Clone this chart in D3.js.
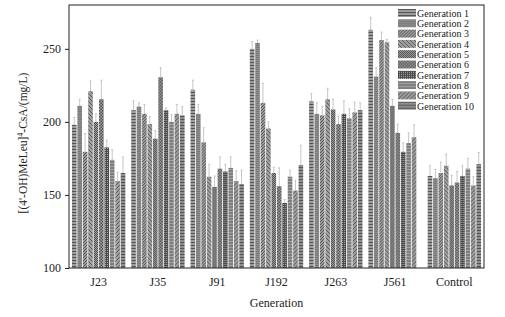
<!DOCTYPE html>
<html>
<head>
<meta charset="utf-8">
<script src="https://cdn.jsdelivr.net/npm/d3@7"></script>
<style>
  body { margin: 0; background: #fff; }
  text { font-family: "Liberation Serif", "Times New Roman", serif; fill: #222; }
</style>
</head>
<body>
<svg></svg>
<script>
// strains along the x axis, one cluster of bars each
const strains = ["J23", "J35", "J91", "J192", "J263", "J561", "Control"];
const generations = ["Generation 1", "Generation 2", "Generation 3", "Generation 4", "Generation 5",
  "Generation 6", "Generation 7", "Generation 8", "Generation 9", "Generation 10"];

// mean titre per generation, mg/L
const J23 = [198, 211, 179.5, 221, 200, 215.5, 182.5, 174, 159.5, 165];
const J35 = [208, 210.5, 205.5, 198.5, 188.5, 230.5, 208, 200, 205.5, 204.5];
const J91 = [222, 205.5, 186, 162.5, 155.5, 168, 166, 168.5, 159.5, 157.5];
const J192 = [250, 254, 213, 195.5, 165, 156, 144.5, 162.5, 153, 170.5];
const J263 = [214, 205.5, 204.5, 215.5, 208.5, 198.5, 205.5, 202.5, 206.5, 208];
const J561 = [263, 231, 256, 254.5, 211, 192.5, 179.5, 185.5, 189.5, null];
const Control = [163, 161.5, 165, 170, 156.5, 158.5, 163, 168, 156.5, 171];

// upper error (sd) per bar
const J23err = [5, 4.5, 12.5, 7, 5.5, 13, 5, 7, 6, 11];
const J35err = [6.5, 2.5, 6.5, 5, 5.5, 6.5, 1.5, 5, 6.5, 6];
const J91err = [6.5, 6.5, 10, 8.5, 7.5, 8, 5, 7.5, 7, 9.5];
const J192err = [5, 2, 13.5, 4.5, 4, 12.5, 2.5, 4.5, 7, 13.5];
const J263err = [5.5, 7.5, 6, 7.5, 7, 5.5, 9, 6.5, 7, 5];
const J561err = [8.5, 6, 5.5, 2, 4.5, 6, 6, 7, 8.5, null];
const Controlerr = [7, 6, 7.5, 8, 7, 7.5, 7, 7, 6, 8];

const yTicks = [100, 150, 200, 250];

const means = [J23, J35, J91, J192, J263, J561, Control];
const errs = [J23err, J35err, J91err, J192err, J263err, J561err, Controlerr];

const width = 505, height = 317;
const margin = { top: 5, right: 21, bottom: 49, left: 69 };
const innerW = width - margin.left - margin.right;
const innerH = height - margin.top - margin.bottom;

const svg = d3.select("svg").attr("width", width).attr("height", height);

// hatch patterns, one per generation
const defs = svg.append("defs");
const patternSpecs = [
  { size: 3, base: "#9c9c9c", draw: (p) => p.append("path").attr("d", "M0,0.5H3").attr("stroke", "#555") },
  { size: 2, base: "#8e8e8e", draw: (p) => p.append("path").attr("d", "M0,0.5H2").attr("stroke", "#7a7a7a") },
  { size: 3, base: "#a0a0a0", draw: (p) => p.append("path").attr("d", "M0,3L3,0M-1,1L1,-1M2,4L4,2").attr("stroke", "#505050") },
  { size: 4, base: "#a0a0a0", draw: (p) => p.append("path").attr("d", "M0,0L4,4M-1,3L1,5M3,-1L5,1").attr("stroke", "#585858") },
  { size: 2, base: "#a4a4a4", draw: (p) => p.append("rect").attr("width", 1).attr("height", 1).attr("fill", "#484848").clone().attr("x", 1).attr("y", 1) },
  { size: 3, base: "#a0a0a0", draw: (p) => p.append("rect").attr("width", 1.5).attr("height", 1.5).attr("fill", "#505050").clone().attr("x", 1.5).attr("y", 1.5) },
  { size: 2, base: "#aaa", draw: (p) => p.append("path").attr("d", "M0,0.5H2M0.5,0V2").attr("stroke", "#4a4a4a") },
  { size: 3, base: "#a2a2a2", draw: (p) => p.append("path").attr("d", "M0,1H3").attr("stroke", "#5a5a5a") },
  { size: 4, base: "#9c9c9c", draw: (p) => p.append("path").attr("d", "M0,4L4,0M-1,1L1,-1M3,5L5,3").attr("stroke", "#5a5a5a") },
  { size: 3, base: "#8e8e8e", draw: (p) => p.append("path").attr("d", "M0,0.5H3").attr("stroke", "#555") },
];
patternSpecs.forEach((s, i) => {
  const p = defs.append("pattern")
    .attr("id", "pat" + i)
    .attr("patternUnits", "userSpaceOnUse")
    .attr("width", s.size)
    .attr("height", s.size);
  p.append("rect").attr("width", s.size).attr("height", s.size).attr("fill", s.base);
  s.draw(p);
});

const g = svg.append("g").attr("transform", `translate(${margin.left},${margin.top})`);

const x0 = d3.scaleBand().domain(strains).range([0, innerW]).paddingInner(0.1).paddingOuter(0.05);
const x1 = d3.scaleBand().domain(generations).range([0, x0.bandwidth()]).paddingInner(0.15);
const y = d3.scaleLinear().domain([100, 280]).range([innerH, 0]);

// bars
const groups = g.selectAll("g.strain")
  .data(strains)
  .join("g")
  .attr("class", "strain")
  .attr("transform", (d) => `translate(${x0(d)},0)`);

groups.each(function (strain, si) {
  const rows = generations
    .map((gen, gi) => ({ gen, gi, v: means[si][gi], e: errs[si][gi] }))
    .filter((d) => d.v != null);

  const grp = d3.select(this);

  // error bars (upper half only)
  grp.selectAll("line.err")
    .data(rows)
    .join("line")
    .attr("x1", (d) => x1(d.gen) + x1.bandwidth() / 2)
    .attr("x2", (d) => x1(d.gen) + x1.bandwidth() / 2)
    .attr("y1", (d) => y(d.v))
    .attr("y2", (d) => y(d.v + d.e))
    .attr("stroke", "#b8b8b8")
    .attr("stroke-width", 0.8);

  grp.selectAll("line.cap")
    .data(rows)
    .join("line")
    .attr("x1", (d) => x1(d.gen) + x1.bandwidth() / 2 - 1)
    .attr("x2", (d) => x1(d.gen) + x1.bandwidth() / 2 + 1)
    .attr("y1", (d) => y(d.v + d.e))
    .attr("y2", (d) => y(d.v + d.e))
    .attr("stroke", "#b8b8b8")
    .attr("stroke-width", 0.8);

  grp.selectAll("rect")
    .data(rows)
    .join("rect")
    .attr("x", (d) => x1(d.gen))
    .attr("width", x1.bandwidth())
    .attr("y", (d) => y(d.v))
    .attr("height", (d) => innerH - y(d.v))
    .attr("fill", (d) => `url(#pat${d.gi})`);
});

// frame
g.append("rect")
  .attr("width", innerW)
  .attr("height", innerH)
  .attr("fill", "none")
  .attr("stroke", "#222")
  .attr("stroke-width", 1);

// y axis
const yAxis = g.append("g")
  .call(d3.axisLeft(y).tickValues(yTicks).tickSize(4).tickPadding(4));
yAxis.select(".domain").remove();
yAxis.selectAll("line").attr("stroke", "#222");
yAxis.selectAll("text").style("font-size", "12px").style("font-family", "Liberation Serif").attr("fill", "#333");

// x axis
const xAxis = g.append("g")
  .attr("transform", `translate(0,${innerH})`)
  .call(d3.axisBottom(x0).tickSize(0).tickPadding(9));
xAxis.select(".domain").remove();
xAxis.selectAll("text").style("font-size", "12px").style("font-family", "Liberation Serif").attr("fill", "#333");

// axis titles
svg.append("text")
  .attr("x", margin.left + innerW / 2)
  .attr("y", 307)
  .attr("text-anchor", "middle")
  .style("font-size", "12px")
  .text("Generation");

const yTitle = svg.append("text")
  .attr("transform", `translate(27,${margin.top + 138}) rotate(-90)`)
  .attr("text-anchor", "middle")
  .style("font-size", "11.5px");
yTitle.append("tspan").text("[(4'-OH)MeLeu]");
yTitle.append("tspan").attr("dy", -4).style("font-size", "8px").text("4");
yTitle.append("tspan").attr("dy", 4).text("-CsA/(mg/L)");

// legend
const legend = svg.append("g").attr("transform", "translate(398,9)");
const item = legend.selectAll("g")
  .data(generations)
  .join("g")
  .attr("transform", (d, i) => `translate(0,${i * 10.3})`);
item.append("rect")
  .attr("width", 18)
  .attr("height", 8)
  .attr("fill", (d, i) => `url(#pat${i})`);
item.append("text")
  .attr("x", 19)
  .attr("y", 7.8)
  .style("font-size", "10px")
  .text((d) => d);
</script>
</body>
</html>
